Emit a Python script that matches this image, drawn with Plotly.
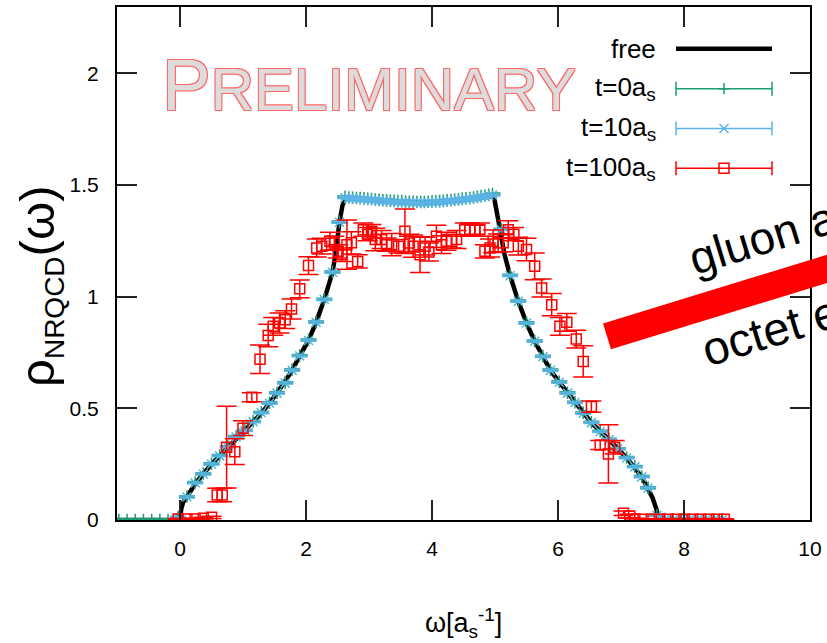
import plotly.graph_objects as go

# ---------------- data ----------------
free_x = [-1.0, 0.0, 0.02, 0.05, 0.11, 0.25, 0.5, 0.76, 1.03, 1.30, 1.54, 1.78, 1.90, 2.04, 2.16, 2.29,
          2.42, 2.48, 2.53, 2.58, 2.62, 2.70, 2.90, 3.20, 3.50, 3.80, 4.10, 4.40, 4.70, 4.98, 5.02,
          5.08, 5.15, 5.24, 5.37, 5.50, 5.63, 5.76, 5.88, 6.02, 6.27, 6.53, 6.81, 7.09, 7.33, 7.43,
          7.50, 7.56, 7.60, 8.60]
free_y = [0.0, 0.0, 0.05, 0.08, 0.103, 0.166, 0.25, 0.327, 0.40, 0.48, 0.568, 0.67, 0.735, 0.804, 0.885,
          0.987, 1.109, 1.21, 1.333, 1.41, 1.435, 1.44, 1.437, 1.43, 1.424, 1.42, 1.422, 1.428, 1.438,
          1.452, 1.40, 1.30, 1.19, 1.094, 0.979, 0.882, 0.80, 0.732, 0.67, 0.617, 0.526, 0.436, 0.36,
          0.278, 0.193, 0.143, 0.10, 0.05, 0.0, 0.0]

t10_x = [-0.03, 0.11, 0.24, 0.37, 0.50, 0.63, 0.76, 0.89, 1.03, 1.16, 1.29, 1.42, 1.54, 1.67, 1.78,
         1.90, 2.04, 2.16, 2.29, 2.42, 2.53, 2.62,
         2.68, 2.74, 2.80, 2.86, 2.92, 2.98, 3.04, 3.10, 3.16, 3.22, 3.28, 3.34, 3.40, 3.46, 3.52,
         3.58, 3.64, 3.70, 3.76, 3.82, 3.88, 3.94, 4.00, 4.06, 4.12, 4.18, 4.24, 4.30, 4.36, 4.42,
         4.48, 4.54, 4.60, 4.66, 4.72, 4.78, 4.84, 4.90, 4.96,
         5.10, 5.24, 5.37, 5.50, 5.63, 5.76, 5.88, 6.02, 6.15, 6.27, 6.40, 6.53, 6.67, 6.81, 6.95,
         7.09, 7.22, 7.33, 7.43, 7.57, 7.70, 7.83, 7.96, 8.09, 8.22, 8.35, 8.48, 8.61]
t10_y = [0.01, 0.103, 0.166, 0.206, 0.25, 0.287, 0.327, 0.372, 0.40, 0.44, 0.48, 0.523, 0.568, 0.613,
         0.67, 0.735, 0.804, 0.885, 0.987, 1.109, 1.333, 1.443,
         1.440, 1.439, 1.438, 1.437, 1.436, 1.434, 1.433, 1.431, 1.430, 1.428, 1.427, 1.426, 1.425,
         1.424, 1.423, 1.422, 1.421, 1.421, 1.420, 1.420, 1.420, 1.421, 1.422, 1.423, 1.424, 1.425,
         1.427, 1.428, 1.430, 1.432, 1.434, 1.436, 1.438, 1.440, 1.443, 1.446, 1.449, 1.452, 1.455,
         1.30, 1.094, 0.979, 0.882, 0.80, 0.732, 0.67, 0.617, 0.568, 0.526, 0.478, 0.436, 0.396,
         0.36, 0.318, 0.278, 0.238, 0.193, 0.143, 0.02, 0.004, 0.003, 0.003, 0.003, 0.003, 0.003,
         0.003, 0.003]

t0_x = [-0.97, -0.84, -0.71, -0.58, -0.45, -0.32, -0.19, -0.05] + t10_x
t0_y = [0.0, 0.0, 0.0, 0.0, 0.0, 0.0, 0.0, 0.0] + [0.012, 0.105, 0.168, 0.208, 0.252, 0.289, 0.329, 0.374,
         0.402, 0.442, 0.482, 0.525, 0.570, 0.615, 0.672, 0.737, 0.806, 0.887, 0.989, 1.111, 1.335,
         1.447,
         1.444, 1.443, 1.442, 1.441, 1.440, 1.438, 1.437, 1.435, 1.434, 1.432, 1.431, 1.430, 1.429,
         1.428, 1.427, 1.426, 1.425, 1.425, 1.424, 1.424, 1.424, 1.425, 1.426, 1.427, 1.428, 1.429,
         1.431, 1.432, 1.434, 1.436, 1.438, 1.440, 1.442, 1.444, 1.447, 1.450, 1.453, 1.456, 1.460,
         1.302, 1.096, 0.981, 0.884, 0.802, 0.734, 0.672, 0.619, 0.570, 0.528, 0.480, 0.438, 0.398,
         0.362, 0.320, 0.280, 0.240, 0.195, 0.145, 0.022, 0.004, 0.003, 0.003, 0.003, 0.003, 0.003,
         0.003, 0.003]

t100_x = [-0.03, 0.11, 0.24, 0.37, 0.50, 0.59, 0.67, 0.74, 0.87, 1.00, 1.14, 1.27, 1.40, 1.48, 1.58,
          1.67, 1.77, 1.90, 2.04, 2.17, 2.25, 2.38, 2.45, 2.51, 2.57, 2.65, 2.72, 2.82, 2.91, 2.98,
          3.04, 3.10, 3.20, 3.28, 3.36, 3.47, 3.57, 3.64, 3.70, 3.81, 3.89, 3.95, 4.07, 4.15, 4.23,
          4.31, 4.39, 4.52, 4.60, 4.68, 4.76, 4.84, 4.92, 4.97, 5.05, 5.13, 5.21, 5.30, 5.37, 5.50,
          5.63, 5.74, 5.90, 6.03, 6.14, 6.29, 6.40, 6.53, 6.67, 6.80, 6.90, 7.04, 7.14, 7.22, 7.35,
          7.48, 7.61, 7.74, 7.87, 8.00, 8.13, 8.26, 8.39, 8.52, 8.64]
t100_y = [0.004, 0.004, 0.005, 0.008, 0.012, 0.112, 0.112, 0.326, 0.306, 0.411, 0.55, 0.72, 0.826, 0.867,
          0.882, 0.897, 0.945, 1.035, 1.139, 1.218, 1.226, 1.248, 1.24, 1.203, 1.188, 1.233, 1.241,
          1.158, 1.30, 1.28, 1.293, 1.256, 1.256, 1.233, 1.233, 1.226, 1.293, 1.24, 1.226, 1.188,
          1.226, 1.20, 1.27, 1.233, 1.248, 1.248, 1.256, 1.30, 1.30, 1.30, 1.30, 1.203, 1.218, 1.248,
          1.241, 1.241, 1.30, 1.28, 1.226, 1.211, 1.136, 1.039, 0.964, 0.867, 0.885, 0.81, 0.71,
          0.508, 0.336, 0.296, 0.326, 0.03, 0.018, 0.004, 0.003, 0.003, 0.003, 0.003, 0.003, 0.003,
          0.003, 0.003, 0.003, 0.003, 0.003]
t100_err = [0.003, 0.003, 0.003, 0.004, 0.005, 0.03, 0.03, 0.183, 0.058, 0.033, 0.02, 0.064, 0.05, 0.04,
            0.045, 0.04, 0.045, 0.04, 0.04, 0.04, 0.035, 0.04, 0.03, 0.03, 0.03, 0.11, 0.05, 0.03,
            0.03, 0.03, 0.03, 0.05, 0.04, 0.03, 0.05, 0.03, 0.10, 0.04, 0.05, 0.08, 0.04, 0.04, 0.05,
            0.04, 0.04, 0.03, 0.04, 0.03, 0.03, 0.02, 0.03, 0.03, 0.04, 0.05, 0.04, 0.04, 0.04, 0.03,
            0.04, 0.05, 0.06, 0.04, 0.05, 0.04, 0.04, 0.04, 0.07, 0.025, 0.02, 0.13, 0.03, 0.01, 0.008,
            0.004, 0.003, 0.003, 0.003, 0.003, 0.003, 0.003, 0.003, 0.003, 0.003, 0.003, 0.003]

x_ticks = [0, 2, 4, 6, 8, 10]
y_ticks = [0, 0.5, 1, 1.5, 2]
y_ticktext = ["0", "0.5", "1", "1.5", "2"]

SUB = '<sub><span style="font-size:19px">s</span></sub>'
legend_labels = ["free", "t=0a" + SUB, "t=10a" + SUB, "t=100a" + SUB]

GREEN = "#1a9e6e"
BLUE = "#5bb4e5"
RED = "#ff0000"
FONT = "Liberation Sans, Arial, sans-serif"

fig = go.Figure()
fig.add_trace(go.Scatter(x=free_x, y=free_y, mode="lines", line=dict(color="black", width=4.5),
                         showlegend=False))
fig.add_trace(go.Scatter(x=t0_x, y=t0_y, mode="markers",
                         marker=dict(symbol="cross-thin", size=9, line=dict(color=GREEN, width=1.5)),
                         error_y=dict(type="constant", value=0.004, color=GREEN, thickness=1.5, width=8),
                         showlegend=False))
fig.add_trace(go.Scatter(x=t10_x, y=t10_y, mode="markers",
                         marker=dict(symbol="x-thin", size=9, line=dict(color=BLUE, width=1.5)),
                         error_y=dict(type="constant", value=0.004, color=BLUE, thickness=1.5, width=8),
                         showlegend=False))
fig.add_trace(go.Scatter(x=t100_x, y=t100_y, mode="markers",
                         marker=dict(symbol="square-open", size=10, color=RED, line=dict(color=RED, width=1.5)),
                         error_y=dict(type="data", array=t100_err, color=RED, thickness=1.5, width=10),
                         showlegend=False))

# ---- custom legend on an overlay pixel-like axis ----
leg_y = [47, 87, 127, 167]
fig.add_trace(go.Scatter(x=[676, 772], y=[leg_y[0], leg_y[0]], mode="lines", xaxis="x2", yaxis="y2",
                         line=dict(color="black", width=4.5), showlegend=False, hoverinfo="skip"))
for yy, col, sym, sz in [(leg_y[1], GREEN, "cross-thin", 8), (leg_y[2], BLUE, "x-thin", 9),
                         (leg_y[3], RED, "square-open", 10)]:
    fig.add_trace(go.Scatter(x=[724], y=[yy], mode="markers", xaxis="x2", yaxis="y2",
                             marker=dict(symbol=sym, size=sz, color=col, line=dict(color=col, width=1.5)),
                             error_x=dict(type="constant", value=48, color=col, thickness=1.5, width=7),
                             showlegend=False, hoverinfo="skip"))

annotations = []
for lab, yy in zip(legend_labels, leg_y):
    annotations.append(dict(x=658, y=yy, xref="x2", yref="y2", text=lab, showarrow=False,
                            xanchor="right", yanchor="middle",
                            font=dict(family=FONT, size=26, color="black")))

# y-axis title
annotations.append(dict(x=-0.112, y=0.455, xref="paper", yref="paper", showarrow=False, textangle=-90,
                        xanchor="center", yanchor="middle",
                        text='ρ<sub><span style="font-size:28px">NRQCD</span></sub>(ω)',
                        font=dict(family=FONT, size=49, color="black")))
# x-axis title
annotations.append(dict(x=0.5, y=-0.2, xref="paper", yref="paper", showarrow=False,
                        xanchor="center", yanchor="middle",
                        text="ω[a<sub>s</sub><sup>-1</sup>]",
                        font=dict(family=FONT, size=27, color="black")))
# PRELIMINARY watermark
annotations.append(dict(x=(160 - 117) / 693, y=(520 - 126) / 514, xref="paper", yref="paper",
                        showarrow=False, xanchor="left", yanchor="bottom",
                        text='P<span style="font-size:60px">RELIMINARY</span>',
                        font=dict(family=FONT, size=73, color="#dcdcdc",
                                  shadow="-1px -1px 0 #ff6666, 1px -1px 0 #ff6666, -1px 1px 0 #ff6666, 1px 1px 0 #ff6666")))
# rotated texts on right
annotations.append(dict(x=(762 - 117) / 693, y=(520 - 237) / 514, xref="paper", yref="paper",
                        showarrow=False, xanchor="center", yanchor="middle", textangle=-17,
                        text="gluon a", font=dict(family=FONT, size=46, color="black")))
annotations.append(dict(x=(770 - 117) / 693, y=(520 - 330) / 514, xref="paper", yref="paper",
                        showarrow=False, xanchor="center", yanchor="middle", textangle=-17,
                        text="octet e", font=dict(family=FONT, size=47, color="black")))

shapes = [dict(type="line", xref="paper", yref="paper",
               x0=(607 - 117) / 693, y0=(520 - 336) / 514, x1=(900 - 117) / 693, y1=(520 - 246) / 514,
               line=dict(color=RED, width=27), layer="above")]

axis_common = dict(showline=True, linecolor="black", linewidth=2, mirror="ticks", ticks="inside",
                   ticklen=20, tickwidth=1.5, tickcolor="#222", showgrid=False, zeroline=False,
                   tickfont=dict(family=FONT, size=21, color="black"))

fig.update_layout(
    width=827, height=643,
    margin=dict(l=117, r=17, t=5, b=123),
    plot_bgcolor="white", paper_bgcolor="white",
    xaxis=dict(range=[-1, 10], tickvals=x_ticks, ticklabelstandoff=9, **axis_common),
    yaxis=dict(range=[0, 2.297], tickvals=y_ticks, ticktext=y_ticktext, ticklabelstandoff=12, **axis_common),
    xaxis2=dict(range=[117, 810], overlaying="x", visible=False, fixedrange=True),
    yaxis2=dict(range=[520, 5], overlaying="y", visible=False, fixedrange=True),
    annotations=annotations,
    shapes=shapes,
)

fig.write_html("out.html")
